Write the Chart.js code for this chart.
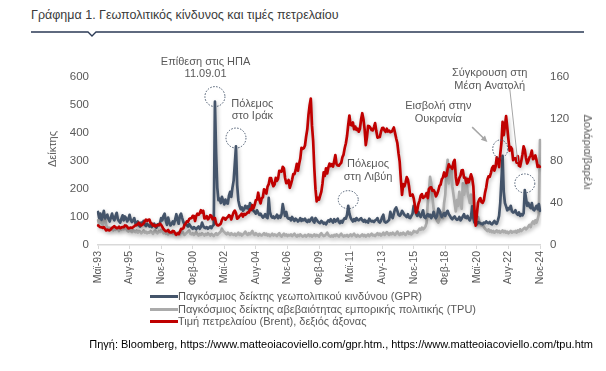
<!DOCTYPE html>
<html><head><meta charset="utf-8">
<script src="https://cdn.jsdelivr.net/npm/chart.js@4/dist/chart.umd.min.js"></script>
<style>
html,body{margin:0;padding:0;background:#fff;}
#wrap{position:relative;width:606px;height:371px;overflow:hidden;font-family:"Liberation Sans",Arial,sans-serif;}
#c{position:absolute;left:0;top:0;}
.t{position:absolute;white-space:nowrap;}
.rot{position:absolute;white-space:nowrap;font-size:11px;color:#595959;}
.lg{position:absolute;left:150px;height:14px;line-height:14px;font-size:11px;color:#595959;white-space:nowrap;}
.lg span.s{display:inline-block;width:28px;height:3px;vertical-align:middle;margin-right:0px;position:relative;top:-1px;}
</style></head><body>
<div id="wrap">
<div class="t" style="left:31px;top:8px;font-size:12.5px;color:#3a3a3a;">Γράφημα 1. Γεωπολιτικός κίνδυνος και τιμές πετρελαίου</div>
<svg style="position:absolute;left:0;top:0" width="606" height="40"><polyline points="31,32 88,32 92,36 96,32 584,32" fill="none" stroke="#2B3A55" stroke-width="1.3"/></svg>
<canvas id="c" width="606" height="371"></canvas>
<div class="rot" style="left:52px;top:149px;transform:translate(-50%,-50%) rotate(-90deg);">Δείκτης</div>
<div class="rot" style="left:588px;top:152px;transform:translate(-50%,-50%) rotate(90deg);">Δολάρια/βαρέλι</div>
<div id="legend"></div>
<div class="t" style="right:13px;top:338px;font-size:11px;color:#000;">Πηγή: Bloomberg, https://www.matteoiacoviello.com/gpr.htm., https://www.matteoiacoviello.com/tpu.htm</div>
</div>
<script>
// ---- categories (monthly, May 1993 – Nov 2024) ----
const monthNames = ['Ιαν','Φεβ','Μαρ','Απρ','Μαϊ','Ιουν','Ιουλ','Αυγ','Σεπ','Οκτ','Νοε','Δεκ'];
const firstYear = 1993, firstMonth = 5, lastYear = 2024, lastMonth = 11;
const categories = [];
for (let y = firstYear; y <= lastYear; y++) {
  for (let m = 1; m <= 12; m++) {
    if (y === firstYear && m < firstMonth) continue;
    if (y === lastYear && m > lastMonth) break;
    categories.push(monthNames[m-1] + '-' + String(y).slice(2));
  }
}
const tickEvery = 27;
const leftTicks = [0,100,200,300,400,500,600];
const rightTicks = [0,40,80,120,160];

const seriesNames = [
  'Παγκόσμιος δείκτης γεωπολιτικού κινδύνου (GPR)',
  'Παγκόσμιος δείκτης αβεβαιότητας  εμπορικής πολιτικής (TPU)',
  'Τιμή πετρελαίου (Brent), δεξιός άξονας'
];

// GPR index (left axis)
const gpr = [
118,96,112,90,104,122,95,101,
108,92,84,98,112,96,88,104,115,92,85,80,
94,106,88,102,96,84,92,108,90,82,88,96,
78,72,84,70,66,80,74,86,72,68,76,70,
66,72,64,70,76,68,62,74,70,78,96,88,
104,112,86,72,98,80,70,76,84,74,92,110,
88,76,104,112,96,82,72,78,70,66,74,68,
62,58,64,60,56,62,66,58,64,80,68,62,
60,64,58,62,66,60,68,72,512,330,205,160,
165,150,172,158,145,162,150,148,176,190,172,205,
230,290,352,215,160,140,128,134,122,128,140,132,
138,126,150,142,130,122,118,112,124,116,108,112,
104,98,102,110,100,96,168,118,104,98,102,96,
100,108,96,104,98,110,146,122,104,118,98,94,
96,88,100,92,86,94,90,84,88,96,86,92,
88,94,86,82,90,84,92,98,86,80,96,90,
84,80,78,86,82,76,80,74,82,88,84,92,
86,80,92,84,88,94,82,78,86,80,90,96,
94,108,140,112,98,90,84,92,86,96,90,88,
92,96,88,84,90,82,86,80,94,88,84,86,
82,88,90,96,84,80,86,100,108,84,80,82,
86,90,118,104,96,112,128,134,122,108,104,110,
122,116,108,104,100,110,98,96,104,112,140,128,
112,104,118,106,100,112,124,100,96,104,110,102,
108,96,104,118,102,96,104,130,124,110,100,108,
114,104,116,122,110,104,96,92,98,102,94,90,
92,100,88,94,102,110,98,96,104,94,88,100,
138,96,80,76,74,82,80,78,76,74,80,78,
84,80,78,82,76,74,80,86,78,76,88,104,
150,230,318,190,150,138,124,132,128,140,120,116,
118,124,112,108,116,104,110,106,114,196,168,140,
150,138,132,150,128,124,132,140,128,146,122
];

// TPU index (left axis)
const tpu = [
88,76,92,80,72,84,96,70,
64,58,62,56,60,52,58,54,62,56,50,58,
54,62,56,66,58,52,48,56,50,46,54,48,
46,52,44,50,48,42,46,52,44,48,42,46,
44,50,46,40,48,52,44,42,50,46,54,48,
42,46,40,44,38,46,42,48,40,44,38,42,
40,46,38,44,50,42,36,40,44,48,52,40,
38,42,36,40,46,38,34,40,36,42,38,34,
40,36,42,38,34,40,36,32,38,42,36,40,
44,48,58,50,46,42,38,44,40,36,42,38,
36,40,34,38,44,36,40,34,38,42,48,40,
36,42,38,44,50,40,36,42,38,34,40,36,
34,38,42,36,40,34,38,32,36,40,34,38,
36,32,38,42,34,30,36,40,34,38,32,36,
34,38,32,36,40,34,30,36,32,38,34,30,
32,36,30,34,38,32,36,30,34,38,32,36,
34,30,38,42,36,32,34,38,44,36,32,30,
34,30,36,32,38,34,30,36,40,34,30,34,
32,36,30,34,38,32,36,40,34,30,36,32,
30,34,38,32,36,30,34,38,32,36,40,34,
36,32,38,42,36,40,34,38,44,36,40,46,
40,36,42,38,44,40,36,42,48,40,36,42,
38,44,40,36,42,48,40,44,38,42,50,46,
48,44,52,58,54,62,56,60,66,78,150,190,
243,220,170,130,110,96,86,80,92,118,104,96,
150,180,260,304,220,250,280,210,180,150,120,160,
140,190,160,130,220,180,200,240,190,170,150,180,
130,110,96,80,88,100,84,76,70,74,64,58,
54,50,56,48,52,46,50,44,48,52,46,50,
44,48,52,46,50,44,48,42,46,50,44,48,
46,50,44,52,48,56,50,54,58,62,56,60,
66,72,64,78,84,76,88,80,92,110,375
];

// Brent, USD/barrel (right axis)
const brent = [
18.6,17.8,16.9,16.9,16.3,17.0,15.5,13.9,
14.6,14.1,13.9,15.0,16.3,17.1,17.9,16.8,16.0,16.3,17.4,16.0,
16.6,17.1,17.0,18.6,18.4,17.3,15.9,16.1,16.6,16.2,17.0,17.9,
18.9,18.9,19.9,21.2,19.1,18.6,19.6,20.5,22.6,24.2,23.0,23.9,
24.1,20.9,20.4,18.5,19.2,17.7,18.6,18.9,18.9,20.3,19.2,17.3,
15.2,14.1,13.2,13.4,14.4,12.2,12.1,12.0,13.4,13.0,11.0,9.8,
11.1,10.3,12.5,15.3,15.3,15.9,19.1,20.3,22.5,22.1,24.6,25.5,
25.5,27.8,27.5,22.8,27.6,29.8,28.7,30.2,33.1,30.9,32.6,25.3,
25.6,27.5,24.5,25.7,28.4,27.7,24.5,25.7,25.6,20.5,18.9,18.6,
19.4,20.3,24.0,26.0,25.7,24.1,25.7,26.7,28.4,27.5,24.3,28.0,
31.2,32.8,30.4,25.0,25.8,27.6,28.4,29.8,27.1,29.6,28.8,29.8,
31.2,30.9,33.8,33.4,37.9,35.2,38.2,42.7,43.2,49.8,43.1,39.6,
44.5,45.5,53.1,51.9,49.0,55.6,57.9,63.8,63.7,59.0,56.0,57.6,
63.9,61.0,63.0,70.6,70.4,69.8,74.4,73.0,63.8,58.9,59.1,62.0,
54.5,58.0,62.1,67.5,67.5,71.3,77.2,70.8,77.1,82.3,92.5,91.5,
92.2,94.8,103.3,110.2,123.9,133.1,139.5,113.9,99.1,72.8,53.2,41.6,
44.9,43.2,47.0,50.8,58.6,69.3,65.8,73.1,68.2,73.9,77.5,75.2,
76.9,74.7,79.9,85.7,77.0,75.7,75.5,77.1,78.2,83.5,86.1,92.4,
96.9,104.0,114.6,123.3,114.5,113.9,116.7,110.2,112.8,109.6,110.8,107.9,
110.7,119.7,125.5,119.8,110.3,95.2,102.6,113.4,113.0,111.5,109.5,109.2,
112.3,116.1,108.5,102.3,102.6,102.9,107.9,111.3,111.6,109.1,107.8,110.8,
108.1,108.9,107.5,107.8,109.7,111.9,106.8,101.6,97.1,87.4,79.4,62.3,
47.8,58.1,55.9,59.5,64.6,62.3,55.9,47.0,47.2,48.1,44.4,37.7,
30.8,33.2,39.1,42.3,47.1,48.5,44.9,45.8,46.6,49.5,44.7,53.3,
54.6,54.9,51.6,52.3,50.3,46.4,48.5,51.7,56.2,57.5,62.7,64.4,
69.1,65.3,66.0,72.1,76.9,74.4,74.3,72.5,78.9,81.0,64.8,57.4,
59.4,64.0,66.1,71.2,71.3,64.2,63.9,59.0,62.8,59.7,63.2,67.3,
63.7,55.7,32.0,18.4,29.4,40.3,43.2,44.7,40.9,40.2,42.7,49.9,
54.8,62.3,65.4,64.8,68.5,73.2,75.2,70.8,74.5,83.5,81.1,74.2,
86.5,97.1,117.3,104.6,113.3,122.7,111.9,100.5,89.8,93.3,91.4,80.9,
82.5,82.6,78.4,84.6,75.5,74.8,80.1,86.2,94.0,90.6,82.9,77.6,
80.1,83.5,85.4,89.9,81.8,82.6,85.3,80.9,74.3,75.6,74.4
];

const colors = ['#44546A', '#ABABAB', '#C00000'];

// annotations anchored in data coordinates (category label, left-axis value)
const annCircles = [
  {at:'Σεπ-01', v:530, rx:10, ry:10},
  {at:'Μαρ-03', v:382, rx:10, ry:10},
  {at:'Μαρ-11', v:162, rx:10, ry:9},
  {at:'Ιαν-22', v:343, rx:7.5, ry:9},
  {at:'Οκτ-23', v:220, rx:10, ry:9.5}
];
const annTexts = [
  {at:'Ιαν-01', v:654, lines:['Επίθεση στις ΗΠΑ','11.09.01']},
  {at:'Μαϊ-04', v:504, lines:['Πόλεμος','στο Ιράκ']},
  {at:'Αυγ-12', v:289, lines:['Πόλεμος','στη Λιβύη']},
  {at:'Αυγ-17', v:496, lines:['Εισβολή στην','Ουκρανία']},
  {at:'Απρ-21', v:614, lines:['Σύγκρουση στη','Μέση Ανατολή']}
];
const annArrows = [
  {from:['Ιαν-20',421], to:['Φεβ-21',368], head:true, w:1.5},
  {from:['Σεπ-22',564], to:['Απρ-23',296], head:false, w:1}
];

const annotationPlugin = {
  id:'ann',
  afterDatasetsDraw(chart){
    const ctx = chart.ctx, xs = chart.scales.x, ys = chart.scales.y;
    const px = l => xs.getPixelForValue(categories.indexOf(l));
    const py = v => ys.getPixelForValue(v);
    ctx.save();
    ctx.strokeStyle = '#44546A'; ctx.lineWidth = 1; ctx.setLineDash([1.5,1.5]);
    annCircles.forEach(c => {
      ctx.beginPath(); ctx.ellipse(px(c.at), py(c.v), c.rx, c.ry, 0, 0, Math.PI*2); ctx.stroke();
    });
    ctx.setLineDash([]);
    annArrows.forEach(a => {
      const x1 = px(a.from[0]), y1 = py(a.from[1]), x2 = px(a.to[0]), y2 = py(a.to[1]);
      ctx.strokeStyle = '#A6A6A6'; ctx.fillStyle = '#A6A6A6'; ctx.lineWidth = a.w;
      const ang = Math.atan2(y2-y1, x2-x1);
      const hl = a.head ? 7 : 0;
      ctx.beginPath(); ctx.moveTo(x1,y1); ctx.lineTo(x2 - Math.cos(ang)*hl*0.8, y2 - Math.sin(ang)*hl*0.8); ctx.stroke();
      if (a.head) {
        ctx.beginPath();
        ctx.moveTo(x2,y2);
        ctx.lineTo(x2 - hl*Math.cos(ang-0.45), y2 - hl*Math.sin(ang-0.45));
        ctx.lineTo(x2 - hl*Math.cos(ang+0.45), y2 - hl*Math.sin(ang+0.45));
        ctx.closePath(); ctx.fill();
      }
    });
    ctx.fillStyle = '#595959'; ctx.font = '11px "Liberation Sans", Arial, sans-serif';
    ctx.textAlign = 'center'; ctx.textBaseline = 'middle';
    annTexts.forEach(t => {
      t.lines.forEach((ln, i) => ctx.fillText(ln, px(t.at), py(t.v) + i*12.5));
    });
    ctx.restore();
  }
};

const shadowPlugin = {
  id:'shadow',
  beforeDatasetDraw(chart){ const c = chart.ctx; c.save(); c.shadowColor='rgba(0,0,0,0.28)'; c.shadowBlur=4; c.shadowOffsetX=1; c.shadowOffsetY=2; },
  afterDatasetDraw(chart){ chart.ctx.restore(); }
};

const tickFont = {family:'"Liberation Sans", Arial, sans-serif', size:11.5};

const chart = new Chart(document.getElementById('c'), {
  type:'line',
  data:{
    labels: categories,
    datasets:[
      {label:seriesNames[0], data:gpr, yAxisID:'y', borderColor:colors[0], backgroundColor:colors[0], borderWidth:2.7, pointRadius:0, tension:0, order:1},
      {label:seriesNames[1], data:tpu, yAxisID:'y', borderColor:colors[1], backgroundColor:colors[1], borderWidth:2.7, pointRadius:0, tension:0, order:2},
      {label:seriesNames[2], data:brent, yAxisID:'y1', borderColor:colors[2], backgroundColor:colors[2], borderWidth:2.7, pointRadius:0, tension:0, order:0}
    ]
  },
  options:{
    responsive:false, animation:false, devicePixelRatio:1,
    layout:{padding:{top:77,left:0,right:0,bottom:0}},
    plugins:{legend:{display:false}, tooltip:{enabled:false}},
    elements:{line:{borderJoinStyle:'round', borderCapStyle:'round'}},
    scales:{
      x:{
        type:'category', offset:false,
        grid:{display:true, drawOnChartArea:false, drawTicks:true, tickLength:4, color:'#D9D9D9'},
        border:{display:true, color:'#D9D9D9', width:1.5},
        ticks:{autoSkip:false, maxRotation:90, minRotation:90, color:'#595959', font:{family:tickFont.family, size:10.5}, padding:2},
        afterBuildTicks(scale){ scale.ticks = scale.ticks.filter(t => t.value % tickEvery === 0); },
        afterFit(scale){ scale.height = 126; }
      },
      y:{
        position:'left', min:leftTicks[0], max:leftTicks[leftTicks.length-1],
        afterBuildTicks(scale){ scale.ticks = leftTicks.map(v => ({value:v})); },
        grid:{display:false, drawTicks:false}, border:{display:false},
        ticks:{color:'#595959', font:tickFont, padding:9},
        afterFit(scale){ scale.width = 98; }
      },
      y1:{
        position:'right', min:rightTicks[0], max:rightTicks[rightTicks.length-1],
        afterBuildTicks(scale){ scale.ticks = rightTicks.map(v => ({value:v})); },
        grid:{display:false, drawTicks:false}, border:{display:false},
        ticks:{color:'#595959', font:tickFont, padding:10},
        afterFit(scale){ scale.width = 66; }
      }
    }
  },
  plugins:[shadowPlugin, annotationPlugin]
});

// HTML legend built from the datasets
const lg = document.getElementById('legend');
const legendTops = [289, 302, 314];
chart.data.datasets.forEach((ds, i) => {
  const d = document.createElement('div');
  d.className = 'lg';
  d.style.top = legendTops[i] + 'px';
  const s = document.createElement('span'); s.className = 's'; s.style.background = ds.borderColor;
  d.appendChild(s);
  d.appendChild(document.createTextNode(ds.label));
  lg.appendChild(d);
});
</script>
</body></html>
